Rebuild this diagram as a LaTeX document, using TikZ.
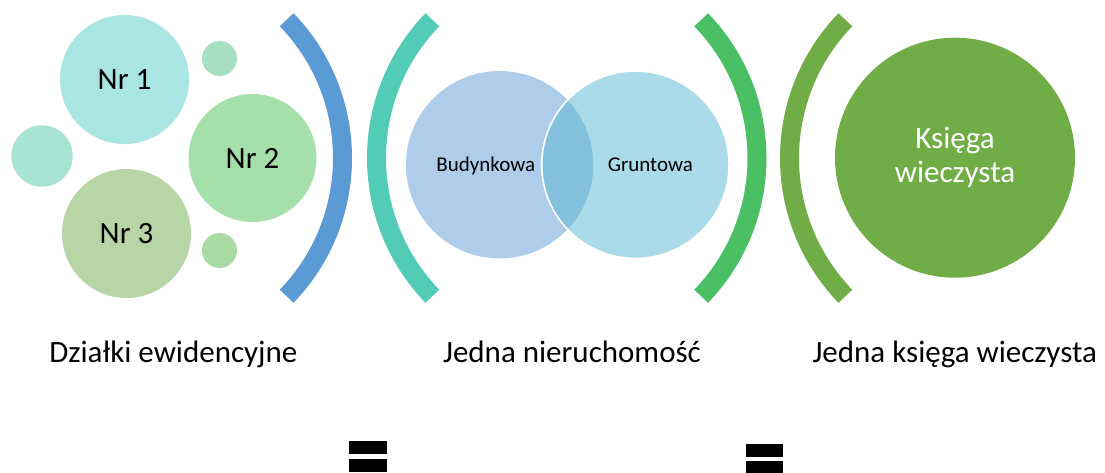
\documentclass[tikz,border=0pt]{standalone}
\usepackage{fontspec}
\setmainfont{Carlito}

% palette
\definecolor{cNrOne}{HTML}{A9E5E2}
\definecolor{cDotTop}{HTML}{A6E0C0}
\definecolor{cDotLeft}{HTML}{A8E3D3}
\definecolor{cNrTwo}{HTML}{A5DFA9}
\definecolor{cNrThree}{HTML}{B8D6A5}
\definecolor{cDotBot}{HTML}{A8DBA1}
\definecolor{cBud}{HTML}{AECDEA}
\definecolor{cGrunt}{HTML}{ABDBE9}
\definecolor{cOverlap}{HTML}{83C1DD}
\definecolor{cBlue}{HTML}{5B9BD5}
\definecolor{cTeal}{HTML}{52CBB7}
\definecolor{cGreen}{HTML}{4BBF64}
\definecolor{cOlive}{HTML}{70AD47}

\newcommand{\bigtext}{\fontsize{31pt}{34pt}\selectfont}
\newcommand{\venntext}{\fontsize{21pt}{25pt}\selectfont}

\begin{document}
\begin{tikzpicture}[x=1pt,y=1pt,
  bubble/.style={circle, inner sep=0pt, draw=none},
  bracket/.style={line width=19pt},
  label/.style={anchor=base, font=\bigtext, text=black},
  vennlabel/.style={anchor=base, font=\venntext, text=black},
  eqbar/.style={fill=black}]
\useasboundingbox (0,0) rectangle (1105,-472);

% --- parcels: large and small bubbles
\node[bubble, fill=cNrOne, minimum size=129pt, font=\bigtext] (nr1) at (124.5,-79.5) {Nr 1};
\node[bubble, fill=cDotTop, minimum size=35pt] (dotTop) at (219.5,-58.5) {};
\node[bubble, fill=cDotLeft, minimum size=61.4pt] (dotLeft) at (42,-156) {};
\node[bubble, fill=cNrTwo, minimum size=128pt, font=\bigtext] (nr2) at (252.5,-158) {Nr 2};
\node[bubble, fill=cNrThree, minimum size=129pt, font=\bigtext] (nr3) at (126.5,-233.5) {Nr 3};
\node[bubble, fill=cDotBot, minimum size=35pt] (dotBot) at (219.5,-250.5) {};

% --- brackets
\draw[bracket, cBlue]  (143.5,-158) ++(-44:199) arc[start angle=-44, end angle=44, radius=199];
\draw[bracket, cTeal]  (575.5,-158) ++(136:199) arc[start angle=136, end angle=224, radius=199];
\draw[bracket, cGreen] (558,-158)   ++(-44:199) arc[start angle=-44, end angle=44, radius=199];
\draw[bracket, cOlive] (988.5,-158) ++(136:199) arc[start angle=136, end angle=224, radius=199];

% --- one property: building and land parts
\node[bubble, fill=cBud, minimum size=187.4pt] (bud) at (499.6,-164.7) {};
\node[bubble, fill=cGrunt, minimum size=187.4pt] (grunt) at (635.4,-164.7) {};
\begin{scope}
  \clip (bud.center) circle[radius=93.7];
  \fill[cOverlap] (grunt.center) circle[radius=93.7];
\end{scope}
\draw[white, line width=1.6pt] (grunt.center) circle[radius=93.7];
\node[vennlabel] (tbud) at (485.8,-171.7) {Budynkowa};
\node[vennlabel] (tgrunt) at (650.3,-171.7) {Gruntowa};

% --- land register
\node[bubble, fill=cOlive, minimum size=240pt, text=white, align=center, font=\bigtext] (kw) at (955,-157.7) {Księga\\wieczysta};

% --- captions
\node[label] (capA) at (173.3,-362.3) {Działki ewidencyjne};
\node[label] (capB) at (572,-362.3) {Jedna nieruchomość};
\node[label] (capC) at (954.7,-362.3) {Jedna księga wieczysta};

% --- equals signs
\fill[eqbar] (349.3,-441.3) rectangle (387,-454.3);
\fill[eqbar] (349.3,-458.7) rectangle (387,-471.7);
\fill[eqbar] (745.7,-444) rectangle (783,-456.7);
\fill[eqbar] (745.7,-461.3) rectangle (783,-474);
\end{tikzpicture}
\end{document}
